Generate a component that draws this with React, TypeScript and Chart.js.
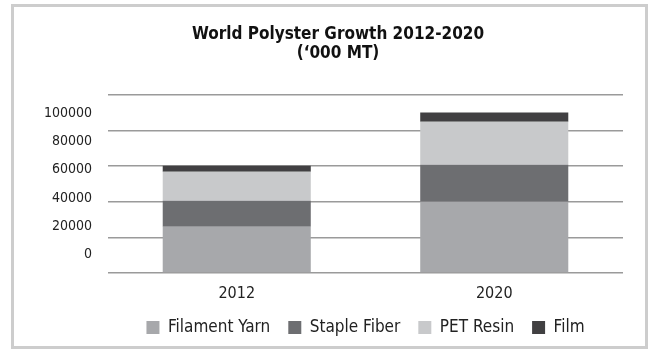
import React, { useEffect, useRef } from "react";
import { Chart, registerables } from "chart.js";

Chart.register(...registerables);

// ---- data ----
const categories = ["2012", "2020"];
const filamentYarn = [26000, 40000];
const stapleFiber = [14600, 20800];
const petResin = [16300, 24200];
const film = [3400, 5200];
const seriesNames = ["Filament Yarn", "Staple Fiber", "PET Resin", "Film"];
const yTickLabels = [0, 20000, 40000, 60000, 80000, 100000];
const titleLines = ["World Polyster Growth 2012-2020", "(\u2018000 MT)"];

// ---- styles ----
const seriesColors = ["#a7a8ab", "#6d6e71", "#c8c9cb", "#414042"];
const FONT = "'Liberation Sans Narrow', 'DejaVu Sans Condensed', 'Arial Narrow', sans-serif";
const TEXT = "#222222";

export default function App() {
  const ref = useRef<HTMLCanvasElement | null>(null);

  useEffect(() => {
    if (!ref.current) return;
    const seriesValues = [filamentYarn, stapleFiber, petResin, film];
    const chart = new Chart(ref.current, {
      type: "bar",
      data: {
        labels: categories,
        datasets: seriesNames.map((name, i) => ({
          label: name,
          data: seriesValues[i],
          backgroundColor: seriesColors[i],
          borderWidth: 0,
          barPercentage: 0.575,
          categoryPercentage: 1,
          yAxisID: "y",
        })),
      },
      options: {
        animation: false,
        responsive: false,
        devicePixelRatio: 1,
        layout: { padding: { left: 17, right: 0, top: 0, bottom: 0 } },
        plugins: {
          title: {
            display: true,
            text: titleLines,
            color: "#111111",
            font: { family: FONT, size: 17, weight: "bold", lineHeight: 1.12 },
            padding: { top: 18, bottom: 32 },
          },
          legend: {
            position: "bottom",
            fullSize: false,
            labels: {
              boxWidth: 13,
              boxHeight: 13,
              color: TEXT,
              font: { family: FONT, size: 17 },
              padding: 18,
            },
          },
          tooltip: { enabled: false },
        },
        scales: {
          x: {
            stacked: true,
            grid: { display: false, drawTicks: false },
            border: { display: false },
            ticks: { color: TEXT, font: { family: FONT, size: 16, lineHeight: 1 }, padding: 13 },
            afterFit: (s: any) => {
              s.height = 28;
            },
          },
          y: {
            stacked: true,
            position: "left",
            min: 0,
            max: 100000,
            ticks: { display: false, stepSize: 20000 },
            grid: { color: "#9a9a9a", lineWidth: 1.5, drawTicks: false },
            border: { display: false },
            afterFit: (s: any) => {
              s.width = 0;
            },
          },
          y2: {
            type: "linear",
            position: "left",
            min: -13333,
            max: 113121,
            grid: { display: false, drawTicks: false, tickLength: 0 },
            border: { display: false },
            afterBuildTicks: (s: any) => {
              s.ticks = yTickLabels.map((v) => ({ value: v }));
            },
            ticks: {
              color: TEXT,
              font: { family: FONT, size: 14 },
              padding: 16,
              callback: (v: any) => String(v),
            },
            afterFit: (s: any) => {
              s.width = 77;
            },
          },
          y3: {
            type: "linear",
            position: "right",
            min: 0,
            max: 1,
            grid: { display: false, drawTicks: false },
            border: { display: false },
            ticks: { display: false },
            afterFit: (s: any) => {
              s.width = 22;
            },
          },
        },
      } as any,
    });
    return () => chart.destroy();
  }, []);

  return (
    <div
      style={{
        position: "absolute",
        left: 11,
        top: 4,
        width: 637,
        height: 345,
        boxSizing: "border-box",
        border: "3px solid #cdcdcd",
        background: "#ffffff",
      }}
    >
      <canvas ref={ref} width={631} height={339} style={{ display: "block" }} />
    </div>
  );
}
